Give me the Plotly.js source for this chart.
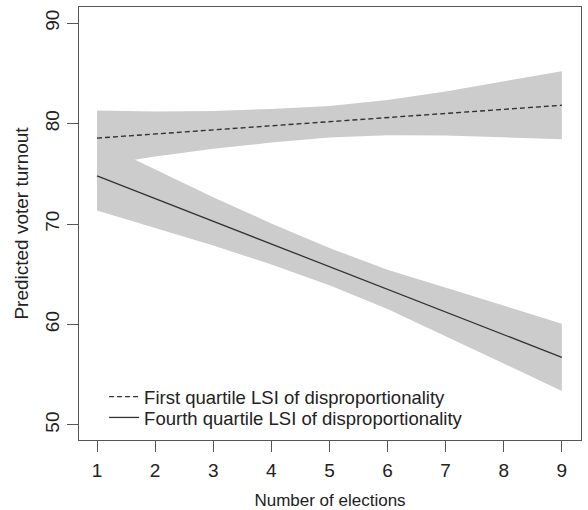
<!DOCTYPE html>
<html>
<head>
<meta charset="utf-8">
<script src="https://cdn.plot.ly/plotly-3.0.1.min.js"></script>
<style>html,body{margin:0;padding:0;background:#fff;}#chart{width:588px;height:510px;}</style>
</head>
<body>
<div id="chart"></div>
<script>
// Number of elections
const elections = [1, 2, 3, 4, 5, 6, 7, 8, 9];
// First quartile LSI of disproportionality: prediction and 95% band
const firstQ      = [78.55, 78.96, 79.37, 79.78, 80.18, 80.59, 81.00, 81.41, 81.82];
const firstQUpper = [81.30, 81.20, 81.25, 81.45, 81.75, 82.35, 83.20, 84.20, 85.20];
const firstQLower = [75.80, 76.72, 77.49, 78.11, 78.61, 78.83, 78.80, 78.62, 78.44];
// Fourth quartile LSI of disproportionality: prediction and 95% band
const fourthQ      = [74.78, 72.52, 70.27, 68.01, 65.76, 63.50, 61.24, 58.99, 56.73];
const fourthQUpper = [78.21, 75.42, 72.67, 70.06, 67.61, 65.45, 63.64, 61.89, 60.08];
const fourthQLower = [71.35, 69.62, 67.87, 65.96, 63.91, 61.55, 58.84, 56.09, 53.38];

const seriesNames = ["First quartile LSI of disproportionality", "Fourth quartile LSI of disproportionality"];
const xTicks = [1, 2, 3, 4, 5, 6, 7, 8, 9];
const yTicks = [50, 60, 70, 80, 90];

const bandColor = '#cccccc';
const lineColor = '#333333';
const axisColor = '#555555';

function band(upper, lower) {
  return {
    x: elections.concat(elections.slice().reverse()),
    y: upper.concat(lower.slice().reverse()),
    type: 'scatter', mode: 'lines', fill: 'toself',
    fillcolor: bandColor, line: {width: 0, color: bandColor},
    showlegend: false, hoverinfo: 'skip'
  };
}

const traces = [
  band(firstQUpper, firstQLower),
  band(fourthQUpper, fourthQLower),
  {x: elections, y: firstQ, type: 'scatter', mode: 'lines', name: seriesNames[0], legend: 'legend',
   line: {color: lineColor, width: 1.4, dash: '5px,3px'}},
  {x: elections, y: fourthQ, type: 'scatter', mode: 'lines', name: seriesNames[1], legend: 'legend2',
   line: {color: lineColor, width: 1.3}}
];

const family = '"Liberation Sans", Arial, sans-serif';
const font = {family: family, size: 17, color: '#222'};
const yTitleFont = {family: family, size: 19, color: '#222'};
const tickFont = {family: family, size: 19, color: '#222'};
const legendFont = {family: family, size: 18.5, color: '#222'};

const legendBase = {xanchor: 'left', yanchor: 'middle', bgcolor: 'rgba(0,0,0,0)',
                    font: legendFont, itemwidth: 30, borderwidth: 0};

const layout = {
  width: 588, height: 510,
  margin: {l: 79, r: 7, t: 7, b: 70, pad: 0},
  paper_bgcolor: '#fff', plot_bgcolor: '#fff',
  font: font,
  showlegend: true,
  legend: Object.assign({x: 0.05, y: 0.099}, legendBase),
  legend2: Object.assign({x: 0.05, y: 0.051}, legendBase),
  xaxis: {
    range: [0.69, 9.33], tickvals: xTicks, ticktext: xTicks.map(String), tickfont: tickFont,
    ticks: 'outside', ticklen: 11, tickcolor: axisColor, tickwidth: 1, ticklabelstandoff: 2,
    showline: true, mirror: true, linecolor: axisColor, linewidth: 1,
    showgrid: false, zeroline: false,
    title: {text: 'Number of elections', font: font, standoff: 16}
  },
  yaxis: {
    range: [48.5, 91.6], tickvals: yTicks, ticktext: yTicks.map(String), tickfont: tickFont,
    ticks: 'outside', ticklen: 11, tickcolor: axisColor, tickwidth: 1, tickangle: -90,
    showline: true, mirror: true, linecolor: axisColor, linewidth: 1,
    showgrid: false, zeroline: false,
    title: {text: 'Predicted voter turnout', font: yTitleFont, standoff: 8}
  }
};

Plotly.newPlot('chart', traces, layout, {displayModeBar: false, staticPlot: true});
</script>
</body>
</html>
